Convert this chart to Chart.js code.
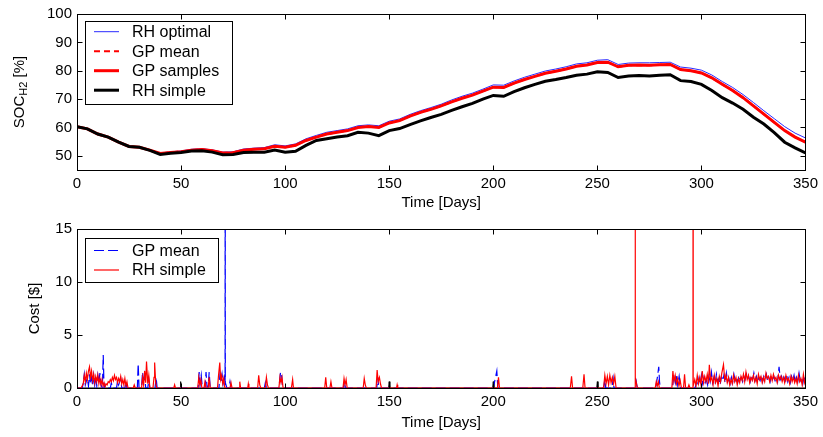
<!DOCTYPE html>
<html>
<head>
<meta charset="utf-8">
<script src="https://cdn.jsdelivr.net/npm/chart.js@4.4.0/dist/chart.umd.min.js"></script>
<style>
  html, body { margin: 0; padding: 0; background: #fff; }
  #top { position: absolute; left: 0; top: 0; width: 823px; height: 212px; }
  #bottom { position: absolute; left: 0; top: 212px; width: 823px; height: 225px; }
</style>
</head>
<body>
<div id="top"><canvas id="socChart"></canvas></div>
<div id="bottom"><canvas id="costChart"></canvas></div>
<script>
// ===== 数据 =====
const dayTicks = [0, 50, 100, 150, 200, 250, 300, 350];
const socTicks = [50, 60, 70, 80, 90, 100];
const costTicks = [0, 5, 10, 15];

// SOC 每 5 天读一次
const socDays = [
  0, 5, 10, 15, 20, 25, 30, 35, 40, 45, 50, 55, 60, 65, 70, 75, 80, 85, 90, 95,
  100, 105, 110, 115, 120, 125, 130, 135, 140, 145, 150, 155, 160, 165, 170, 175, 180, 185, 190, 195,
  200, 205, 210, 215, 220, 225, 230, 235, 240, 245, 250, 255, 260, 265, 270, 275, 280, 285, 290, 295,
  300, 305, 310, 315, 320, 325, 330, 335, 340, 345, 350
];
const socRhOptimal = [
  60.4, 59.6, 57.8, 56.7, 54.9, 53.4, 53.1, 52.1, 51.0, 51.4, 51.7, 52.3, 52.5, 52.1, 51.3, 51.4, 52.4, 52.7, 52.9, 53.9,
  53.5, 54.2, 56.0, 57.2, 58.3, 58.9, 59.5, 60.6, 60.9, 60.6, 62.2, 63.0, 64.6, 65.9, 67.0, 68.2, 69.7, 71.0, 72.1, 73.5,
  75.0, 74.9, 76.4, 77.7, 78.8, 79.9, 80.6, 81.4, 82.4, 82.8, 83.7, 83.9, 82.2, 82.7, 82.8, 82.8, 82.9, 83.0, 81.3, 80.9,
  80.2, 78.5, 76.2, 74.1, 71.6, 68.8, 65.9, 63.1, 60.3, 58.0, 56.3
];
const socGpMean = [
  60.3, 59.5, 57.7, 56.6, 54.8, 53.3, 53.0, 52.0, 50.8, 51.2, 51.5, 52.0, 52.2, 51.8, 51.0, 51.2, 52.0, 52.3, 52.6, 53.4,
  53.0, 53.7, 55.5, 56.7, 57.7, 58.3, 58.9, 60.1, 60.3, 60.0, 61.6, 62.5, 64.0, 65.3, 66.4, 67.6, 69.0, 70.3, 71.5, 72.8,
  74.2, 74.1, 75.6, 76.9, 78.0, 79.1, 79.8, 80.6, 81.6, 82.1, 82.9, 83.0, 81.4, 81.9, 82.0, 81.9, 82.1, 82.2, 80.4, 80.0,
  79.2, 77.5, 75.2, 73.0, 70.6, 67.6, 64.7, 61.8, 58.9, 56.6, 54.9
];
const socGpSamples = [
  60.3, 59.5, 57.7, 56.6, 54.8, 53.3, 53.0, 52.0, 50.8, 51.2, 51.4, 52.0, 52.2, 51.8, 51.0, 51.1, 52.0, 52.3, 52.5, 53.4,
  53.0, 53.7, 55.4, 56.6, 57.7, 58.3, 58.9, 60.0, 60.3, 60.0, 61.6, 62.4, 64.0, 65.3, 66.4, 67.6, 69.0, 70.3, 71.4, 72.8,
  74.2, 74.1, 75.6, 76.9, 78.0, 79.1, 79.8, 80.6, 81.6, 82.0, 82.9, 83.0, 81.4, 81.9, 82.0, 81.9, 82.1, 82.2, 80.4, 80.0,
  79.2, 77.5, 75.2, 73.0, 70.5, 67.6, 64.7, 61.8, 58.9, 56.6, 54.8
];
const socRhSimple = [
  60.3, 59.5, 57.7, 56.6, 54.8, 53.3, 53.0, 51.9, 50.5, 50.9, 51.2, 51.7, 51.8, 51.3, 50.4, 50.5, 51.2, 51.3, 51.3, 52.0,
  51.3, 51.6, 53.7, 55.4, 56.0, 56.6, 57.1, 58.3, 58.0, 57.1, 58.9, 59.6, 61.0, 62.3, 63.5, 64.6, 66.0, 67.3, 68.5, 70.0,
  71.3, 71.0, 72.6, 74.0, 75.2, 76.3, 76.9, 77.6, 78.4, 78.8, 79.6, 79.4, 77.6, 78.1, 78.3, 78.1, 78.4, 78.6, 76.5, 76.2,
  75.2, 73.0, 70.5, 68.6, 66.4, 63.6, 61.2, 58.2, 54.8, 52.8, 51.0
];

// 成本 [天, $]
const costGpMean = [
  [0,0],[2.5,0],[3,0.5],[3.5,1.3],[4,0.3],[5,1.0],[5.5,0.2],[6,1.3],[6.5,0.4],[7,1.0],[7.5,0.2],[8,1.2],[8.5,0.3],
  [9,1.1],[9.5,0.2],[10,1.2],[10.5,0.5],[11,1.4],[11.5,0.3],[12.2,0],[12.6,3.1],[13,0],[13.5,0.3],[14,0],[16,0],
  [16.5,0.5],[17,0],[19,0],[19.5,0.7],[20,0.3],[21,0.9],[21.5,0],[23,0],[23.5,0.6],[24,0],
  [29,0],[29.4,2.3],[29.8,0],[31,0],[31.5,1.5],[32,0.4],[32.5,1.2],[33,0],[34,0],[34.5,0.8],[35,0],[37.5,0],[38,1.0],[38.5,0],
  [58.2,0],[58.7,1.5],[59.2,0.4],[59.7,1.2],[60.2,0],[61.5,0],[62,1.5],[62.5,0],[63,0],[63.5,1.5],[64,0],
  [68.2,0],[68.7,1.3],[69.2,0.6],[69.7,1.3],[70.2,0.4],[70.8,1.0],[71.15,0.3],[71.2,40],[71.25,0.5],[72,0],
  [73,0],[73.5,0.6],[74,0],[90,0],[90.5,0.5],[91,0],[97,0],[97.8,1.5],[98.3,1.2],[98.8,0],
  [128,0],[128.5,0.6],[129,0],[144,0],[144.5,1.0],[145,0],[200,0],[201.7,1.6],[202.2,0],
  [253,0],[253.6,0.8],[254,0],[257,0],[257.6,0.9],[258,0],[268.2,0],[268.7,0.6],[269.2,0],
  [278,0],[278.5,0.6],[279,1.2],[279.5,2.0],[279.9,0.5],[280.3,0],
  [286,0],[286.8,1.2],[287.5,0.5],[288,1.3],[288.6,0.3],[289.3,1.1],[290,0],
  [297,0],[297.6,0.6],[298.2,0.2],[298.8,0.9],[299.4,0.3],[300,1.2],[300.6,0.4],[301.2,1.0],[301.8,0.5],[302.4,0.8],
  [303,0.3],[303.6,1.1],[304.2,0.6],[304.8,1.5],[305.4,0.5],[306,1.0],[306.6,0.4],[307.2,1.3],[307.8,0.6],[308.4,0.9],
  [309,0.3],[309.6,1.1],[310.2,0.7],[310.8,1.2],[311.4,0.5],[312,1.4],[312.6,0.6],[313.2,0.9],[313.8,0.4],[314.4,1.0],
  [315,0.5],[315.6,1.3],[316.2,0.7],[316.8,1.0],[317.4,0.5],[318,1.2],[318.6,0.8],[319.2,1.0],[319.8,0.6],[320.4,1.1],
  [321,0.8],[321.6,1.3],[322.2,0.9],[322.8,1.0],[323.4,0.6],[324,1.2],[324.6,0.8],[325.2,1.4],[325.8,0.7],[326.4,1.1],
  [327,0.6],[327.6,1.0],[328.2,0.7],[328.8,1.2],[329.4,0.6],[330,1.1],[330.6,0.8],[331.2,1.3],[331.8,0.7],[332.4,1.0],
  [333,0.6],[333.6,1.2],[334.2,0.8],[334.8,1.1],[335.4,0.7],[336,1.0],[336.6,0.6],[337.3,2.0],[337.9,0.8],[338.5,1.1],
  [339.1,0.6],[339.7,1.0],[340.3,0.7],[340.9,1.3],[341.5,0.6],[342.1,1.0],[342.7,0.5],[343.3,1.1],[343.9,0.7],[344.5,1.2],
  [345.1,0.5],[345.7,1.0],[346.3,0.6],[346.9,1.4],[347.5,0.7],[348.1,1.0],[348.7,0.4],[349.3,1.1],[350,0.6]
];
const costRhSimple = [
  [0,0],[2,0],[3,0.4],[3.5,1.2],[4,0.6],[4.5,1.4],[5,0.8],[5.5,1.6],[6,2.0],[6.5,1.0],[7,1.6],[7.5,0.7],[8,1.3],
  [8.5,0.5],[9,1.1],[9.5,0.6],[10,1.2],[10.5,0.4],[11,0.9],[11.5,0.3],[12,0.8],[12.5,0.2],[13,0.5],[13.5,0.1],[14,0.4],
  [14.5,0.3],[15,0.6],[15.5,0.5],[16,0.8],[16.5,0.6],[17,1.0],[17.5,0.7],[18,1.2],[18.5,0.8],[19,1.0],[19.5,0.5],
  [20,0.9],[20.5,0.6],[21,1.1],[21.5,0.4],[22,0.8],[22.5,0.3],[23,0.9],[23.5,0.2],[24,0.6],[24.5,0],
  [27,0],[27.5,0.3],[28,0],[31,0],[31.5,1.0],[32,0.3],[32.5,1.6],[33,0.5],[33.4,2.5],[34,0.4],[34.5,1.2],[35,0],
  [36.5,0],[37,1.0],[37.3,2.4],[37.8,0.5],[38.3,0],[46.5,0],[46.9,0.3],[47.3,0],
  [58,0],[58.5,1.0],[59,0.3],[59.5,0.8],[60,0],[61,0],[61.5,0.6],[62,0],[63,0],[63.5,1.0],[64,0],
  [67.5,0],[68,1.2],[68.6,2.4],[69,0.8],[69.5,1.2],[70,0.4],[70.5,0.9],[71,0],
  [73.5,0],[74,0.5],[74.5,0],[78,0],[78.2,0.6],[78.6,0],[82,0],[82.3,0.4],[82.6,0],
  [86.8,0],[87.3,1.2],[87.8,0.3],[88.3,0],[90.5,0],[91,1.0],[91.5,0.3],[92,0],
  [97,0],[97.5,1.0],[98,0.5],[98.5,1.0],[99,0],[103,0],[103.6,0.8],[104,0],
  [119,0],[119.5,1.0],[120,0],[121.5,0],[122,0.6],[122.5,0],
  [127.8,0],[128.3,0.9],[128.8,0.3],[129.3,0.8],[129.8,0],[137.5,0],[138,0.9],[138.5,0.3],[139,0],
  [143.7,0],[144.2,1.7],[144.7,0.6],[145.3,1.0],[145.8,0.4],[146.3,0],[153.5,0],[153.8,0.3],[154.1,0],
  [202,0],[202.5,1.0],[203,0],[237,0],[237.6,1.1],[238.1,0],[243,0],[243.6,1.3],[244.1,0],
  [253,0],[253.6,1.2],[254.2,0.4],[254.8,1.1],[255.4,0.3],[256,1.2],[256.6,0.5],[257.2,1.0],[257.8,0.4],[258.4,1.1],[259,0],
  [268.15,0],[268.2,40],[268.25,1.0],[268.9,0.3],[269.3,0],
  [277.8,0],[278.3,0.6],[278.8,0.2],[279.3,0.6],[279.8,0],
  [285.8,0],[286.3,1.6],[286.8,0.6],[287.4,1.2],[288,0.4],[288.6,0.9],[289.2,0.2],[289.8,0.7],[290.4,0],
  [291.4,0],[291.9,1.3],[292.4,0],[293.5,0],[294,0.3],[294.5,0],[295.95,0],[296,40],[296.05,0.2],
  [296.8,0.8],[297.4,0.2],[298,1.2],[298.6,0.4],[299.2,1.0],[299.8,0.3],[300.4,1.6],[301,0.5],[301.6,1.1],[302.2,0.6],
  [302.8,1.3],[303.4,0.4],[303.8,2.2],[304.4,0.7],[305,1.0],[305.6,0.3],[306.2,1.2],[306.8,0.5],[307.4,0.9],[308,0.2],
  [308.6,1.1],[309.2,0.6],[309.8,1.4],[310.6,2.2],[311.2,0.8],[311.8,1.2],[312.4,0.5],[313,1.0],[313.6,0.3],[314.2,0.8],
  [314.8,0.4],[315.4,1.2],[316,0.6],[316.6,1.0],[317.2,0.3],[317.8,0.9],[318.4,0.5],[319,1.1],[319.6,0.7],[320.2,1.3],
  [320.8,0.6],[321.4,1.5],[322,0.8],[322.6,1.2],[323.2,0.5],[323.8,1.0],[324.4,0.7],[325,1.2],[325.6,0.6],[326.2,1.0],
  [326.8,0.4],[327.4,1.3],[328,0.8],[328.6,1.1],[329.2,0.5],[329.8,1.0],[330.4,0.6],[331,1.4],[331.6,0.9],[332.2,1.1],
  [332.8,0.6],[333.4,1.2],[334,0.7],[334.6,1.3],[335.2,0.8],[335.8,1.0],[336.4,0.5],[337,1.2],[337.6,0.8],[338.2,1.1],
  [338.8,0.6],[339.4,1.0],[340,0.5],[340.6,1.2],[341.2,0.7],[341.8,0.9],[342.4,0.4],[343,1.1],[343.6,0.6],[344.2,1.0],
  [344.8,0.5],[345.4,0.9],[346,0.4],[346.6,1.2],[347.2,0.6],[347.8,0.9],[348.4,0.3],[349,1.3],[349.6,0.5],[350,0.8]
];
const costRhOptimal = [
  [0,0],[49.5,0],[49.8,0.6],[50.1,0],[149.7,0],[150,0.6],[150.3,0],[199.7,0],[200,0.6],[200.3,0],
  [249.7,0],[250,0.6],[250.3,0],[350,0]
];

// ===== 绘制 =====
const FONT = "Arial, 'Liberation Sans', sans-serif";
Chart.defaults.color = "#000";
Chart.defaults.font.family = FONT;
Chart.defaults.font.size = 15;

const toXY = (xs, ys) => xs.map((x, i) => ({ x, y: ys[i] }));
const fromPairs = (pairs) => pairs.map(([x, y]) => ({ x, y }));

// MATLAB 风格：外框、内向刻度、轴标题、带框图例
const matlabFrame = {
  id: "matlabFrame",
  afterDraw(chart, args, o) {
    const { ctx, chartArea: a, scales } = chart;
    const L = Math.round(a.left) + 0.5, R = Math.round(a.right) + 0.5;
    const T = Math.round(a.top) + 0.5, B = Math.round(a.bottom) + 0.5;
    ctx.save();
    ctx.strokeStyle = "#000";
    ctx.lineWidth = 1;
    ctx.setLineDash([]);
    ctx.strokeRect(L, T, R - L, B - T);
    ctx.beginPath();
    scales.x.ticks.forEach((t) => {
      const px = Math.round(scales.x.getPixelForValue(t.value)) + 0.5;
      ctx.moveTo(px, B); ctx.lineTo(px, B - 5);
      ctx.moveTo(px, T); ctx.lineTo(px, T + 5);
    });
    scales.y.ticks.forEach((t) => {
      const py = Math.round(scales.y.getPixelForValue(t.value)) + 0.5;
      ctx.moveTo(L, py); ctx.lineTo(L + 5, py);
      ctx.moveTo(R, py); ctx.lineTo(R - 5, py);
    });
    ctx.stroke();

    // x 轴标题
    ctx.fillStyle = "#000";
    ctx.font = `15px ${FONT}`;
    ctx.textAlign = "center";
    ctx.textBaseline = "middle";
    ctx.fillText(o.xTitle, (a.left + a.right) / 2, o.xTitleY);

    // y 轴标题（可带下标）
    ctx.save();
    ctx.translate(o.yTitleX, (a.top + a.bottom) / 2);
    ctx.rotate(-Math.PI / 2);
    ctx.textAlign = "left";
    const parts = o.yTitle;
    const widths = parts.map((p) => {
      ctx.font = `${p.sub ? 11 : 15}px ${FONT}`;
      return ctx.measureText(p.text).width;
    });
    let x = -widths.reduce((s, w) => s + w, 0) / 2;
    parts.forEach((p, i) => {
      ctx.font = `${p.sub ? 11 : 15}px ${FONT}`;
      ctx.fillText(p.text, x, p.sub ? 4 : 0);
      x += widths[i];
    });
    ctx.restore();

    // 图例
    const lg = o.legend;
    ctx.fillStyle = "#fff";
    ctx.fillRect(lg.x + 0.5, lg.y + 0.5, lg.w, lg.h);
    ctx.strokeStyle = "#000";
    ctx.lineWidth = 1;
    ctx.strokeRect(lg.x + 0.5, lg.y + 0.5, lg.w, lg.h);
    lg.items.forEach((idx, i) => {
      const ds = chart.data.datasets[idx];
      const y = lg.row0 + i * lg.dy;
      ctx.save();
      ctx.strokeStyle = ds.borderColor;
      ctx.lineWidth = ds.borderWidth;
      ctx.setLineDash(ds.borderDash || []);
      ctx.beginPath();
      ctx.moveTo(lg.x + 9, y);
      ctx.lineTo(lg.x + 34, y);
      ctx.stroke();
      ctx.restore();
      ctx.fillStyle = "#000";
      ctx.font = `16px ${FONT}`;
      ctx.textAlign = "left";
      ctx.textBaseline = "middle";
      ctx.fillText(ds.label, lg.x + 47, y + 1);
    });
    ctx.restore();
  }
};

function xAxis(height) {
  return {
    type: "linear", min: 0, max: 350,
    afterBuildTicks: (s) => { s.ticks = dayTicks.map((v) => ({ value: v })); },
    afterFit: (s) => { s.height = height; },
    grid: { display: false, drawTicks: false },
    border: { display: false },
    ticks: { padding: 5, maxRotation: 0, autoSkip: false }
  };
}
function yAxis(min, max, ticks) {
  return {
    type: "linear", min, max,
    afterBuildTicks: (s) => { s.ticks = ticks.map((v) => ({ value: v })); },
    afterFit: (s) => { s.width = 77; },
    grid: { display: false, drawTicks: false },
    border: { display: false },
    ticks: { padding: 5 }
  };
}
const baseOptions = {
  responsive: true,
  maintainAspectRatio: false,
  animation: false,
  events: [],
  elements: { point: { radius: 0 }, line: { tension: 0 } },
};

new Chart(document.getElementById("socChart"), {
  type: "line",
  data: {
    datasets: [
      { label: "RH simple", data: toXY(socDays, socRhSimple), borderColor: "#000000", borderWidth: 3 },
      { label: "GP samples", data: toXY(socDays, socGpSamples), borderColor: "#ff0000", borderWidth: 3 },
      { label: "GP mean", data: toXY(socDays, socGpMean), borderColor: "#ff0000", borderWidth: 2, borderDash: [6, 4] },
      { label: "RH optimal", data: toXY(socDays, socRhOptimal), borderColor: "#2a2aff", borderWidth: 1 }
    ]
  },
  options: {
    ...baseOptions,
    layout: { padding: { top: 12, right: 14.5, left: 0, bottom: 0 } },
    scales: { x: xAxis(42), y: yAxis(45, 100, socTicks) },
    plugins: {
      legend: { display: false },
      tooltip: { enabled: false },
      matlabFrame: {
        xTitle: "Time [Days]", xTitleY: 203,
        yTitle: [{ text: "SOC" }, { text: "H2", sub: true }, { text: " [%]" }], yTitleX: 20,
        legend: { x: 85, y: 21, w: 147, h: 83, row0: 31.7, dy: 19.5, items: [3, 2, 1, 0] }
      }
    }
  },
  plugins: [matlabFrame]
});

new Chart(document.getElementById("costChart"), {
  type: "line",
  data: {
    datasets: [
      { label: "RH simple", data: fromPairs(costRhSimple), borderColor: "#ff0000", borderWidth: 1.2 },
      { label: "GP mean", data: fromPairs(costGpMean), borderColor: "#0000ff", borderWidth: 1.2, borderDash: [10, 4] },
      { label: "RH optimal", data: fromPairs(costRhOptimal), borderColor: "#000000", borderWidth: 1 }
    ]
  },
  options: {
    ...baseOptions,
    layout: { padding: { top: 17, right: 14.5, left: 0, bottom: 0 } },
    scales: { x: xAxis(49), y: yAxis(0, 15, costTicks) },
    plugins: {
      legend: { display: false },
      tooltip: { enabled: false },
      matlabFrame: {
        xTitle: "Time [Days]", xTitleY: 211,
        yTitle: [{ text: "Cost [$]" }], yTitleX: 35,
        legend: { x: 85, y: 26, w: 133, h: 44, row0: 38.5, dy: 19.5, items: [1, 0] }
      }
    }
  },
  plugins: [matlabFrame]
});
</script>
</body>
</html>
